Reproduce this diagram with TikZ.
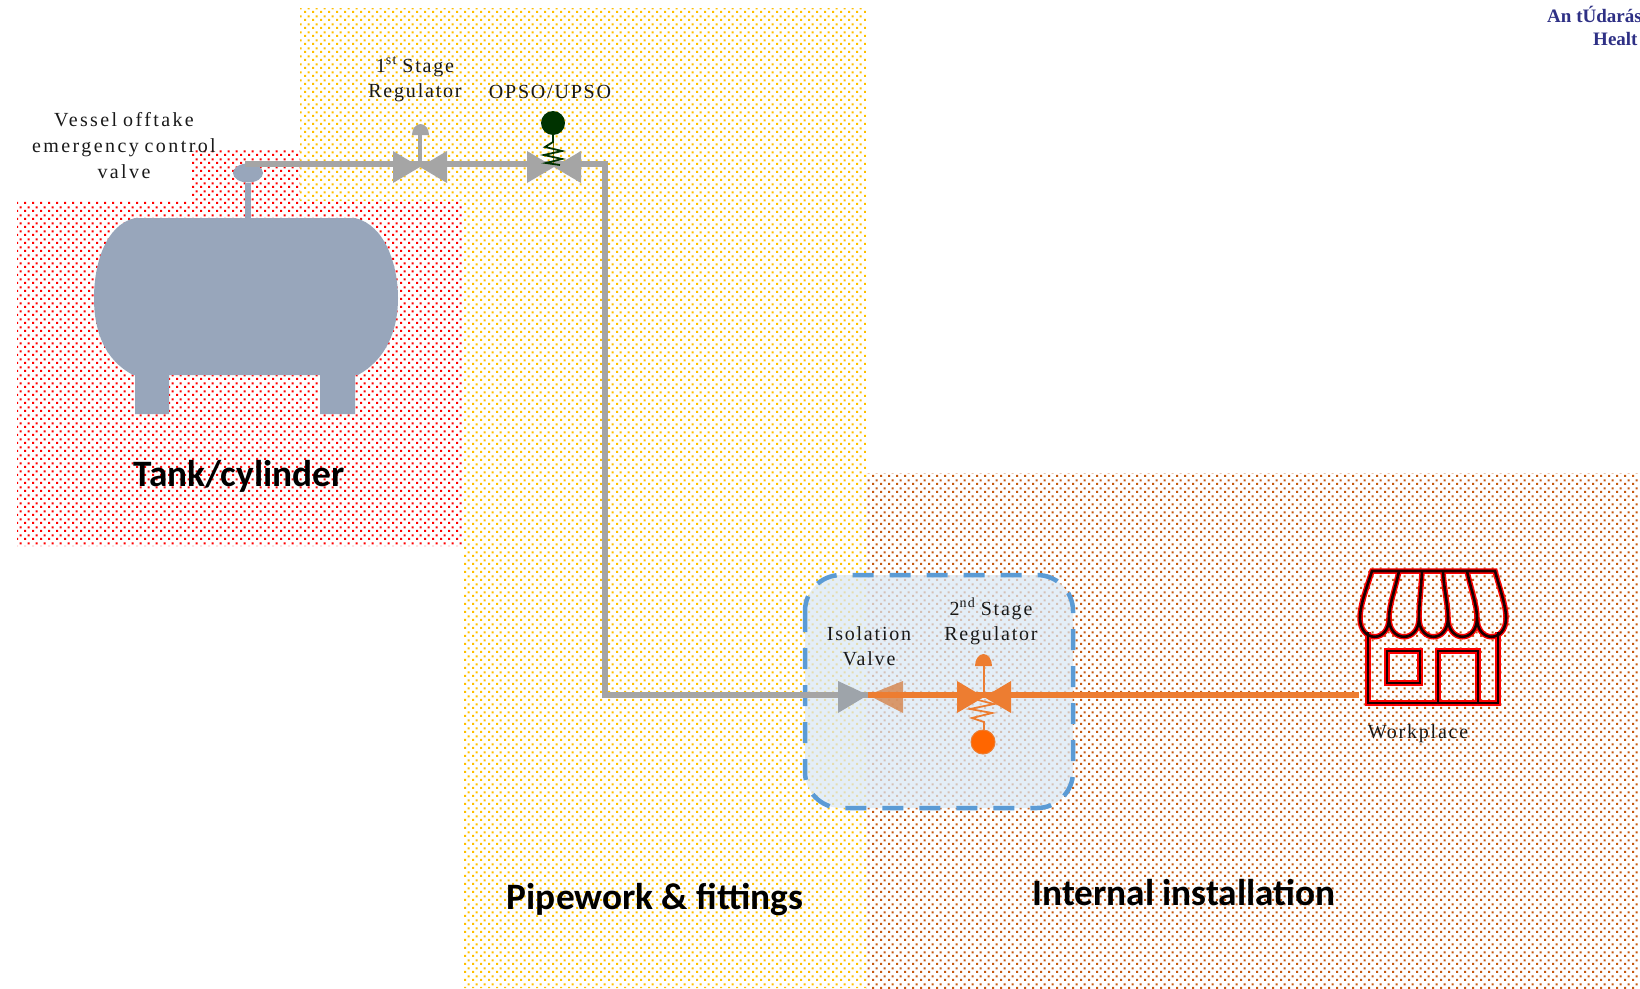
\documentclass[tikz,border=0pt]{standalone}
\usepackage{fontspec}
\usetikzlibrary{patterns,shapes.geometric}
\setmainfont{Liberation Serif}
\newfontfamily\lblfont[LetterSpace=9,WordSpace=0.8]{Liberation Serif}
\newfontfamily\vesfont[LetterSpace=12,WordSpace=0.8]{Liberation Serif}
\newfontfamily\headfont{Carlito}
\newfontfamily\topfont{Liberation Serif}
\definecolor{tankc}{HTML}{98A6BB}
\definecolor{pipec}{HTML}{A5A5A5}
\definecolor{orangec}{HTML}{ED7D31}
\definecolor{yelc}{HTML}{FFC000}
\definecolor{brownc}{HTML}{C55A11}
\definecolor{dkgreen}{HTML}{003300}
\definecolor{topc}{HTML}{2E3085}
\definecolor{boxb}{HTML}{5B9BD5}
\definecolor{boxf}{HTML}{DAE8F5}
\pgfdeclarepatternformonly{pdots}{\pgfpointorigin}{\pgfqpoint{8pt}{8pt}}{\pgfqpoint{8pt}{8pt}}{%
  \pgfpathrectangle{\pgfqpoint{0pt}{0pt}}{\pgfqpoint{2.3pt}{2.3pt}}%
  \pgfpathrectangle{\pgfqpoint{4pt}{4pt}}{\pgfqpoint{2.3pt}{2.3pt}}%
  \pgfusepath{fill}}
\tikzset{
  zone/.style={pattern=pdots,pattern color=#1,draw=none},
  lbl/.style={font=\fontsize{20}{25.5}\selectfont\lblfont,text=black!90,align=center,inner sep=0pt},
  veslbl/.style={font=\fontsize{20}{26}\selectfont\vesfont,text=black!90,align=center,inner sep=0pt},
  head/.style={font=\fontsize{37.3}{40}\selectfont\headfont\bfseries,text=black,inner sep=0pt},
  toptext/.style={font=\fontsize{19}{20}\selectfont\topfont\bfseries,text=topc,inner sep=0pt,anchor=base west},
  pipeg/.style={draw=pipec,line width=6pt,line join=miter},
  pipeo/.style={draw=orangec,line width=6pt},
  shopred/.style={draw=red,line width=5.5pt,line join=miter},
  shopdk/.style={draw=black!90!red,line width=2.6pt,line join=miter},
}
\newcommand{\shopshape}[1]{%
  \draw[#1] (1372,571) -- (1495,571) .. controls (1500,590) and (1506,605) .. (1506,618)
    .. controls (1506,643) and (1477,643) .. (1477,618)
    .. controls (1477,643) and (1448,643) .. (1448,618)
    .. controls (1448,643) and (1419,643) .. (1419,618)
    .. controls (1419,643) and (1389,643) .. (1389,618)
    .. controls (1389,643) and (1360,643) .. (1360,618)
    .. controls (1360,605) and (1366,590) .. (1372,571) -- cycle;
  \draw[#1] (1399,571) .. controls (1395,590) and (1389,605) .. (1389,618);
  \draw[#1] (1422,571) .. controls (1421,590) and (1419,605) .. (1419,618);
  \draw[#1] (1443,571) .. controls (1444,590) and (1448,605) .. (1448,618);
  \draw[#1] (1467,571) .. controls (1471,590) and (1477,605) .. (1477,618);
  \draw[#1] (1368,632) -- (1368,703) -- (1498,703) -- (1498,632);
  \draw[#1] (1387,651) rectangle (1420,683);
  \draw[#1] (1438,703) -- (1438,651) -- (1478,651) -- (1478,703);}
\begin{document}
\begin{tikzpicture}[x=1pt,y=-1pt]
\useasboundingbox (0,0) rectangle (1640,988);
\fill[white] (0,0) rectangle (1640,988);
% zones
\fill[zone=red] (17,201) -- (192,201) -- (192,148) -- (300,148) -- (300,201) -- (463,201) -- (463,546) -- (17,546) -- cycle;
\fill[zone=yelc] (300,8) -- (866,8) -- (866,988) -- (463,988) -- (463,201) -- (300,201) -- cycle;
\fill[zone=brownc] (866,473) rectangle (1640,988);
% isolation box
\node[draw=none,fill=boxf,fill opacity=.72,rounded corners=36pt,minimum width=268pt,minimum height=233pt,inner sep=0pt] (isobox) at (939,691.5) {};
\draw[draw=boxb,line width=4.5pt,rounded corners=36pt,dash pattern=on 21pt off 16pt] (805,575) rectangle (1073,808);
% named points
\coordinate (reg1) at (420,164);
\coordinate (opso) at (553,164);
\coordinate (corner1) at (605,164);
\coordinate (corner2) at (605,695);
\coordinate (iso) at (868,695);
\coordinate (reg2) at (984,695);
\coordinate (shopin) at (1359,695);
% tank
\fill[tankc] (135,218) -- (355,218) .. controls (385,225) and (398,265) .. (398,298)
  .. controls (398,332) and (385,360) .. (358,375) -- (355,375) -- (355,414) -- (320,414) -- (320,375)
  -- (169,375) -- (169,414) -- (135,414) -- (135,375) -- (133,375)
  .. controls (105,360) and (94,332) .. (94,298) .. controls (94,265) and (105,225) .. (135,218) -- cycle;
\node[ellipse,fill=tankc,minimum width=30pt,minimum height=19pt,inner sep=0pt] (vesselvalve) at (248,173) {};
\coordinate (tanktop) at (248,220);
\draw[tankc,line width=6pt] (vesselvalve.south) -- (tanktop);
% grey pipework
\coordinate (vtop) at (245,164);
\draw[pipeg] (vtop) -- (reg1) -- (opso) -- (corner1) -- (corner2) -- (iso);
\draw[pipec,line width=3.5pt] (reg1) -- (420,130);
\fill[pipec] (412,135) -- (429,135) arc[start angle=0,end angle=180,x radius=8.5pt,y radius=11pt] -- cycle;
\fill[pipec] (393,151) -- (393,183) -- (447,151) -- (447,183) -- cycle;
\fill[pipec] (527,151) -- (527,183) -- (581,151) -- (581,183) -- cycle;
% OPSO spring + weight
\draw[yelc!60!black,line width=1pt] (553,135) -- (553,164);
\draw[dkgreen,line width=1.8pt] (553,135) -- (553,142) -- (545,147) -- (562,151) -- (544,155) -- (562,159) -- (546,163) -- (560,165);
\node[circle,fill=dkgreen,minimum size=24pt,inner sep=0pt] (opsoball) at (553,123) {};
% isolation valve
\fill[pipec!90!boxb] (838,681) -- (868,695) -- (838,713) -- cycle;
\fill[orangec!70!pipec,fill opacity=.85] (903,681) -- (868,695) -- (903,713) -- cycle;
% orange line
\draw[pipeo] (iso) -- (reg2) -- (shopin);
\fill[orangec] (957,681) -- (957,713) -- (1011,681) -- (1011,713) -- cycle;
\draw[orangec,line width=2.5pt] (reg2) -- (984,660);
\fill[orangec] (975,666) -- (992,666) arc[start angle=0,end angle=180,x radius=8.5pt,y radius=12pt] -- cycle;
\draw[orangec,line width=1.8pt] (984,730) -- (984,722) -- (972,718) -- (992,713) -- (970,709) -- (994,704) -- (978,700);
\node[circle,fill={rgb,255:red,255;green,102;blue,0},draw=orangec,line width=1pt,minimum size=24pt,inner sep=0pt] (reg2ball) at (983,742) {};
% shop
\shopshape{shopred}
\shopshape{shopdk}
% labels
\node[veslbl] (lblvessel) at (124,146) {Vessel offtake\\emergency control\\valve};
\node[lbl] (lblreg1) at (415,79.5) {1\textsuperscript{st} Stage\\Regulator};
\node[lbl] (lblopso) at (550,92) {OPSO/UPSO};
\node[lbl] (lbliso) at (869,646) {Isolation\\Valve};
\node[lbl] (lblreg2) at (991,621.5) {2\textsuperscript{nd} Stage\\Regulator};
\node[lbl] (lblwork) at (1418,734) {Workplace};
\node[head] (headtank) at (239,476) {Tank/cylinder};
\node[head] (headpipe) at (655,900) {Pipework \& fittings};
\node[head] (headint) at (1184,893) {Internal installation};
\node[toptext] (top1) at (1547,22) {An tÚdarás};
\node[toptext] (top2) at (1593,45) {Healt};
\end{tikzpicture}
\end{document}
